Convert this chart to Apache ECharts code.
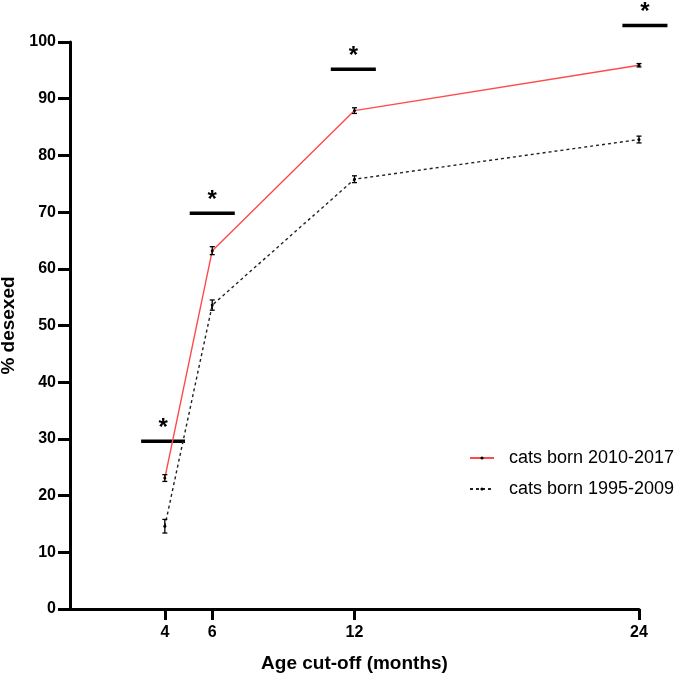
<!DOCTYPE html>
<html>
<head>
<meta charset="utf-8">
<script src="https://cdn.jsdelivr.net/npm/echarts@6/dist/echarts.min.js"></script>
<style>html,body{margin:0;padding:0;background:#fff}#c{width:685px;height:677px}</style>
</head>
<body>
<div id="c"></div>
<script>
var ages = [4, 6, 12, 24];
var xTicks = [4, 6, 12, 24];
var yTicks = [0, 10, 20, 30, 40, 50, 60, 70, 80, 90, 100];
var recent = [23.1, 63.2, 87.9, 95.9];
var recentErr = [0.6, 0.7, 0.5, 0.3];
var older = [14.6, 53.6, 75.8, 82.8];
var olderErr = [1.2, 0.9, 0.6, 0.6];
// significance bars: [xStart, xEnd, y]
var sigBars = [[3.0, 4.85, 29.6], [5.05, 6.95, 69.8], [11.0, 12.9, 95.2], [23.3, 25.2, 102.9]];
var sigLabel = '*';
var seriesNames = ['cats born 2010-2017', 'cats born 1995-2009'];

var chart = echarts.init(document.getElementById('c'));
var FONT = 'Liberation Sans, Arial, sans-serif';

function errData(vals, errs) {
  return ages.map(function (a, i) { return [a, vals[i] - errs[i], vals[i] + errs[i]]; });
}
function errRender(params, api) {
  var x = api.value(0);
  var lo = api.coord([x, api.value(1)]);
  var hi = api.coord([x, api.value(2)]);
  var w = 2.5;
  var st = { stroke: '#000', lineWidth: 1.3 };
  return {
    type: 'group',
    children: [
      { type: 'line', shape: { x1: lo[0], y1: lo[1], x2: hi[0], y2: hi[1] }, style: st },
      { type: 'line', shape: { x1: lo[0] - w, y1: lo[1], x2: lo[0] + w, y2: lo[1] }, style: st },
      { type: 'line', shape: { x1: hi[0] - w, y1: hi[1], x2: hi[0] + w, y2: hi[1] }, style: st }
    ]
  };
}

chart.setOption({
  animation: false,
  backgroundColor: '#fff',
  grid: { left: 70, right: 46, top: 42, bottom: 68, containLabel: false, outerBoundsMode: 'none' },
  legend: {
    orient: 'vertical',
    left: 464,
    top: 444,
    itemWidth: 24,
    itemHeight: 4,
    itemGap: 13,
    data: seriesNames,
    textStyle: { fontFamily: FONT, fontSize: 18, color: '#000', padding: [0, 0, 0, 10] }
  },
  xAxis: {
    type: 'value',
    min: 0,
    max: 24,
    name: 'Age cut-off (months)',
    nameLocation: 'middle',
    nameGap: 45,
    nameTextStyle: { fontFamily: FONT, fontSize: 19, fontWeight: 'bold', color: '#000' },
    splitLine: { show: false },
    axisLine: { show: true, onZero: false, lineStyle: { color: '#000', width: 3 } },
    axisTick: { show: true, length: 11, customValues: xTicks, lineStyle: { color: '#000', width: 3 } },
    axisLabel: { customValues: xTicks, margin: 16, fontFamily: FONT, fontSize: 16, fontWeight: 'bold', color: '#000' }
  },
  yAxis: {
    type: 'value',
    min: 0,
    max: 100,
    interval: 10,
    name: '% desexed',
    nameLocation: 'middle',
    nameGap: 46,
    nameTextStyle: { fontFamily: FONT, fontSize: 19, fontWeight: 'bold', color: '#000' },
    splitLine: { show: false },
    axisLine: { show: true, lineStyle: { color: '#000', width: 3 } },
    axisTick: { show: true, length: 12, lineStyle: { color: '#000', width: 3 } },
    axisLabel: { margin: 14, fontFamily: FONT, fontSize: 16, fontWeight: 'bold', color: '#000',
      formatter: function (v) { return yTicks.indexOf(v) >= 0 ? String(v) : ''; } }
  },
  series: [
    {
      name: seriesNames[0],
      type: 'line',
      data: ages.map(function (a, i) { return [a, recent[i]]; }),
      symbol: 'circle',
      symbolSize: 3,
      itemStyle: { color: '#000' },
      lineStyle: { color: '#ff4a4a', width: 1.4 },
      z: 3
    },
    {
      name: seriesNames[1],
      type: 'line',
      data: ages.map(function (a, i) { return [a, older[i]]; }),
      symbol: 'circle',
      symbolSize: 3,
      itemStyle: { color: '#000' },
      lineStyle: { color: '#222', width: 1.4, type: [3, 3] },
      z: 3
    },
    {
      type: 'custom',
      renderItem: errRender,
      data: errData(recent, recentErr),
      z: 4,
      silent: true
    },
    {
      type: 'custom',
      renderItem: errRender,
      data: errData(older, olderErr),
      z: 4,
      silent: true
    },
    {
      type: 'custom',
      clip: false,
      silent: true,
      data: sigBars,
      renderItem: function (params, api) {
        var a = api.coord([api.value(0), api.value(2)]);
        var b = api.coord([api.value(1), api.value(2)]);
        var cx = (a[0] + b[0]) / 2;
        return {
          type: 'group',
          children: [
            { type: 'line', shape: { x1: a[0], y1: a[1], x2: b[0], y2: b[1] }, style: { stroke: '#000', lineWidth: 3.5 } },
            { type: 'text', style: { text: sigLabel, x: cx, y: a[1] - 1, textAlign: 'center', textVerticalAlign: 'bottom',
              fontFamily: FONT, fontSize: 24, fontWeight: 'bold', fill: '#000' } }
          ]
        };
      }
    }
  ]
});
</script>
</body>
</html>
